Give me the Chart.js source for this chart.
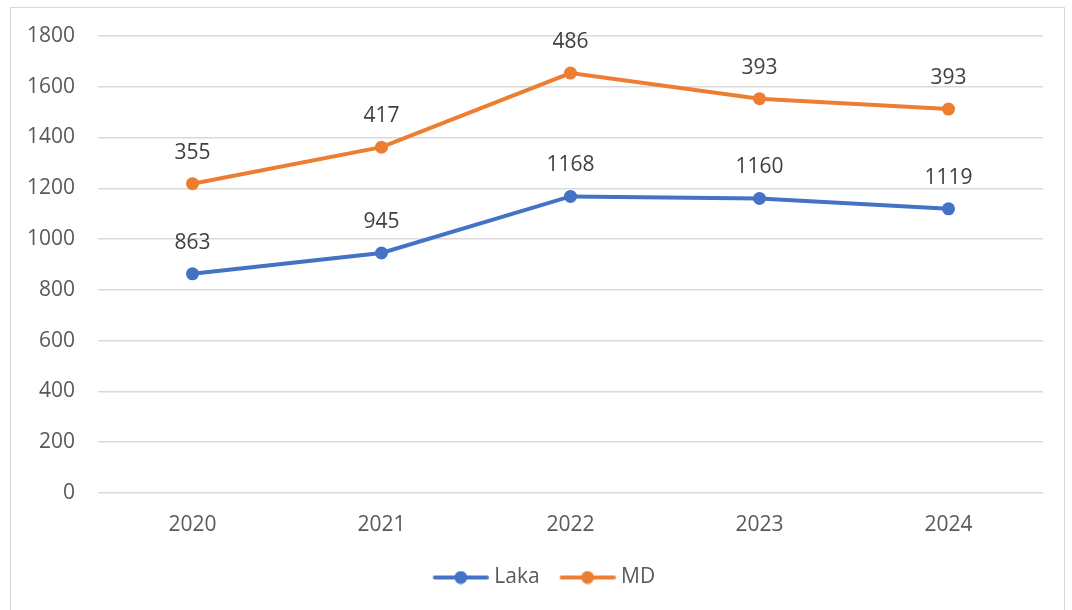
<!DOCTYPE html>
<html>
<head>
<meta charset="utf-8">
<script src="https://cdn.jsdelivr.net/npm/chart.js@4"></script>
<style>
  html, body { margin: 0; padding: 0; background: #fff; }
  #wrap { width: 1072px; height: 610px; position: relative; }
</style>
</head>
<body>
<div id="wrap"><canvas id="chart" width="1072" height="610"></canvas></div>
<script>
// Data (MD is stacked on top of Laka, labels show own value)
const years = ['2020', '2021', '2022', '2023', '2024'];
const lakaValues = [863, 945, 1168, 1160, 1119];
const mdValues = [355, 417, 486, 393, 393];
const yTicks = [0, 200, 400, 600, 800, 1000, 1200, 1400, 1600, 1800];

const fontFamily = '"Open Sans", "Noto Sans", sans-serif';
const fontSize = 21;
const blue = '#4472C4';
const orange = '#ED7D31';

// legend marker: short line with a dot in the middle (transparent gap on the left)
function legendMarker(color) {
    const c = document.createElement('canvas');
    c.width = 72; c.height = 14;
    const g = c.getContext('2d');
    g.strokeStyle = color;
    g.lineWidth = 4;
    g.lineCap = 'round';
    g.beginPath();
    g.moveTo(18, 7);
    g.lineTo(70, 7);
    g.stroke();
    g.fillStyle = color;
    g.beginPath();
    g.arc(44, 7, 6.5, 0, Math.PI * 2);
    g.fill();
    return c;
}
const markers = [legendMarker(blue), legendMarker(orange)];

// outer frame
const framePlugin = {
    id: 'frame',
    beforeDraw(chart) {
        const ctx = chart.ctx;
        ctx.save();
        ctx.strokeStyle = '#d9d9d9';
        ctx.lineWidth = 1;
        ctx.strokeRect(10.5, 7.5, 1054, 620);
        ctx.restore();
    }
};

// legend is centred on the whole frame, not on the space right of the y axis
const legendShift = {
    id: 'legendShift',
    afterLayout(chart) {
        if (chart.legend) {
            chart.legend.left += 17;
            chart.legend.right += 17;
        }
    }
};

// value labels above each point
const valueLabels = {
    id: 'valueLabels',
    afterDatasetsDraw(chart) {
        const ctx = chart.ctx;
        ctx.save();
        ctx.font = fontSize + 'px ' + fontFamily;
        ctx.fillStyle = '#404040';
        ctx.textAlign = 'center';
        ctx.textBaseline = 'middle';
        chart.data.datasets.forEach((ds, i) => {
            const meta = chart.getDatasetMeta(i);
            meta.data.forEach((pt, j) => {
                ctx.fillText(String(ds.data[j]), pt.x, pt.y - 31);
            });
        });
        ctx.restore();
    }
};

new Chart(document.getElementById('chart').getContext('2d'), {
    type: 'line',
    data: {
        labels: years,
        datasets: [
            {
                label: 'Laka',
                data: lakaValues,
                borderColor: blue,
                backgroundColor: blue,
                borderWidth: 4,
                pointRadius: 6.5,
                pointHoverRadius: 6.5,
                pointBackgroundColor: blue,
                pointBorderWidth: 0,
                fill: false,
                tension: 0
            },
            {
                label: 'MD',
                data: mdValues,
                borderColor: orange,
                backgroundColor: orange,
                borderWidth: 4,
                pointRadius: 6.5,
                pointHoverRadius: 6.5,
                pointBackgroundColor: orange,
                pointBorderWidth: 0,
                fill: false,
                tension: 0
            }
        ]
    },
    options: {
        responsive: false,
        animation: false,
        layout: {
            padding: { top: 36, right: 29, bottom: 12, left: 0 }
        },
        plugins: {
            tooltip: { enabled: false },
            legend: {
                position: 'bottom',
                labels: {
                    usePointStyle: true,
                    pointStyleWidth: 62,
                    boxHeight: 14,
                    padding: 9,
                    color: '#595959',
                    font: { family: fontFamily, size: fontSize },
                    generateLabels(chart) {
                        return chart.data.datasets.map((ds, i) => ({
                            text: ds.label,
                            pointStyle: markers[i],
                            fillStyle: ds.borderColor,
                            strokeStyle: ds.borderColor,
                            lineWidth: 0,
                            fontColor: '#595959',
                            datasetIndex: i
                        }));
                    }
                }
            }
        },
        scales: {
            x: {
                offset: true,
                grid: { display: false, drawTicks: false },
                border: { display: false },
                ticks: {
                    color: '#595959',
                    padding: 20,
                    font: { family: fontFamily, size: fontSize }
                }
            },
            y: {
                stacked: true,
                min: 0,
                max: 1800,
                afterBuildTicks(scale) {
                    scale.ticks = yTicks.map(v => ({ value: v }));
                },
                afterFit(scale) {
                    scale.width = 98;
                },
                grid: { color: '#d9d9d9', lineWidth: 1.5, drawTicks: false },
                border: { display: false },
                ticks: {
                    color: '#595959',
                    padding: 23,
                    font: { family: fontFamily, size: fontSize },
                    callback: v => String(v)
                }
            }
        }
    },
    plugins: [framePlugin, legendShift, valueLabels]
});
</script>
</body>
</html>
